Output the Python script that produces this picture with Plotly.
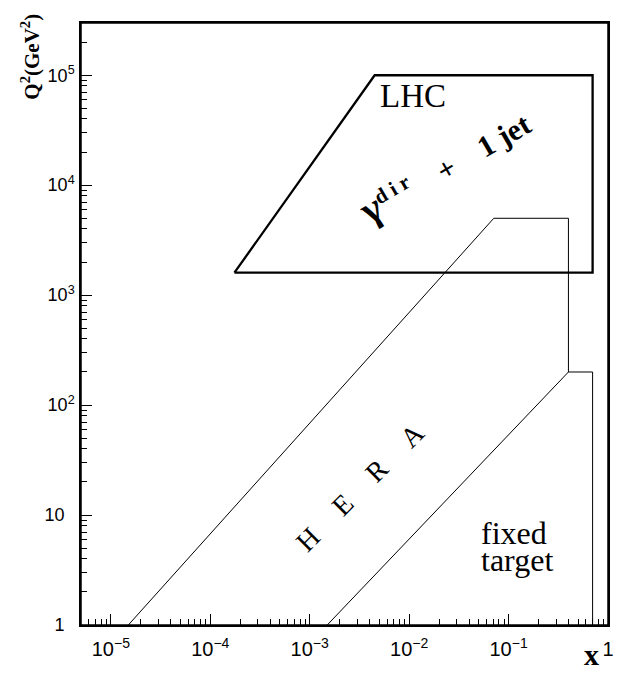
import plotly.graph_objects as go

# LHC region (gamma_dir + 1 jet)
lhc_x = [1.75e-4, 4.5e-3, 0.7, 0.7, 1.75e-4]
lhc_q2 = [1600, 1e5, 1e5, 1600, 1600]

# HERA region (upper boundary and lower diagonal)
hera_upper_x = [1.5e-5, 0.071, 0.4, 0.4]
hera_upper_q2 = [1, 5000, 5000, 200]
hera_lower_x = [1.5e-3, 0.4]
hera_lower_q2 = [1, 200]

# fixed target region
fixed_x = [0.4, 0.7, 0.7]
fixed_q2 = [200, 200, 1]

# y tick labels
y_tick_vals = [1, 10, 100, 1e3, 1e4, 1e5]
y_tick_text = ["1\u2007", "10\u2007", "10<sup>2</sup>", "10<sup>3</sup>",
               "10<sup>4</sup>", "10<sup>5</sup>"]

SERIF = "Liberation Serif, Times New Roman, serif"
SANS = "Liberation Sans, Arial, sans-serif"

fig = go.Figure()
fig.add_trace(go.Scatter(x=lhc_x, y=lhc_q2, mode="lines",
                         line=dict(color="black", width=2.3), hoverinfo="skip"))
fig.add_trace(go.Scatter(x=hera_upper_x, y=hera_upper_q2, mode="lines",
                         line=dict(color="black", width=1), hoverinfo="skip"))
fig.add_trace(go.Scatter(x=hera_lower_x, y=hera_lower_q2, mode="lines",
                         line=dict(color="black", width=1), hoverinfo="skip"))
fig.add_trace(go.Scatter(x=fixed_x, y=fixed_q2, mode="lines",
                         line=dict(color="black", width=1), hoverinfo="skip"))

axis_common = dict(
    showline=True, linecolor="black", linewidth=1.5, mirror=True,
    ticks="inside", ticklen=11, tickcolor="black", tickwidth=1,
    showgrid=False, zeroline=False, exponentformat="power",
    automargin=False,
    minor=dict(ticks="inside", ticklen=6, tickcolor="black", tickwidth=1,
               dtick="D1", showgrid=False),
)

fig.update_xaxes(type="log", range=[-5.3, 0], dtick=1,
                 tickfont=dict(family=SANS, size=16, color="black"),
                 ticklabelstandoff=6, **axis_common)
fig.update_yaxes(type="log", range=[0, 5.475],
                 tickmode="array", tickvals=y_tick_vals, ticktext=y_tick_text,
                 tickfont=dict(family=SANS, size=18, color="black"),
                 ticklabelstandoff=1, **axis_common)

# plot frame (all four sides)
fig.add_shape(type="rect", xref="paper", yref="paper", x0=0, y0=0, x1=1, y1=1,
              line=dict(color="black", width=1.5), layer="above")

ann = [
    dict(text="LHC", x=0.630, y=0.879, font=dict(family=SERIF, size=33)),
    dict(text="<b><span style='font-size:40px'>γ</span><sup>d i r</sup>\u2002\u2002+\u2002\u20021 jet</b>",
         x=0.688, y=0.762, textangle=-30, font=dict(family=SERIF, size=30)),
    dict(text="H\u2003\u200aE\u2003\u200aR\u2003\u200aA", x=0.529, y=0.229,
         textangle=-45, font=dict(family=SERIF, size=28)),
    dict(text="fixed", x=0.755, y=0.153, xanchor="left", font=dict(family=SERIF, size=32)),
    dict(text="target", x=0.755, y=0.108, xanchor="left", font=dict(family=SERIF, size=32)),
    dict(text="<b>Q<sup>2</sup>(GeV<sup>2</sup>)</b>", x=-0.095, y=0.944, textangle=-90,
         font=dict(family=SERIF, size=21)),
    dict(text="<b>x</b>", x=0.968, y=-0.0805, yanchor="bottom", font=dict(family=SERIF, size=30)),
]
for a in ann:
    a.setdefault("xanchor", "center")
    a.setdefault("yanchor", "middle")
    a.update(xref="paper", yref="paper", showarrow=False)
    a["font"]["color"] = "black"
    fig.add_annotation(**a)

# the page body adds an 8px offset, so the figure is 8px smaller and margins shifted
fig.update_layout(
    width=627, height=667,
    margin=dict(l=73, r=27, t=15, b=50, autoexpand=False),
    paper_bgcolor="white", plot_bgcolor="white",
    showlegend=False,
)

fig.write_html("out.html")
